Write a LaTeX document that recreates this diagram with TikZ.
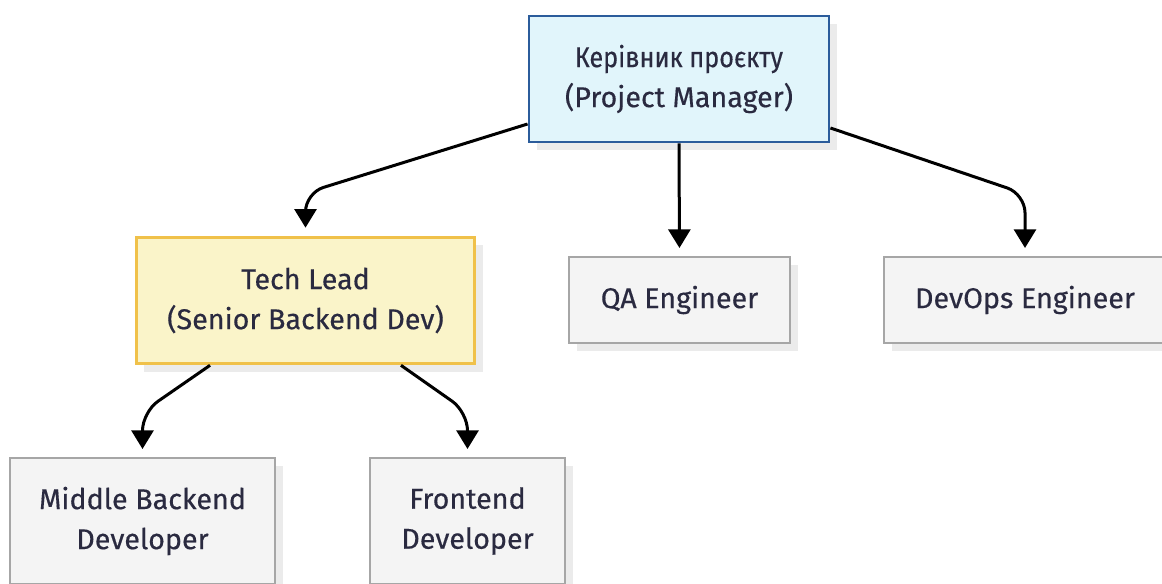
\documentclass[tikz,border=0pt]{standalone}
\usepackage{fontspec}
\setmainfont{Fira Sans}
\newfontfamily\rolefont{Fira Sans}[FakeBold=0.4]
\newfontfamily\rolecyr{Fira Sans}[FakeBold=0.4,FakeStretch=0.88]
\usetikzlibrary{arrows.meta,shadows,calc}
\definecolor{txt}{HTML}{2A2A40}
\definecolor{pmfill}{HTML}{E1F5FB}
\definecolor{pmline}{HTML}{2B5C9B}
\definecolor{tlfill}{HTML}{FAF4C9}
\definecolor{tlline}{HTML}{F0C14A}
\definecolor{grfill}{HTML}{F4F4F4}
\definecolor{grline}{HTML}{A6A6A6}
\definecolor{shade}{HTML}{EBEBEB}
\tikzset{
  role/.style={draw, line width=1.5pt, inner sep=0pt, align=center,
    text=txt, font=\rolefont\fontsize{21.5}{30}\selectfont,
    drop shadow={shadow xshift=6pt, shadow yshift=-6pt, fill=shade, opacity=1}},
  pmbox/.style={role, fill=pmfill, draw=pmline, line width=2.2pt},
  leadbox/.style={role, fill=tlfill, draw=tlline, line width=2.2pt},
  staffbox/.style={role, fill=grfill, draw=grline},
  link/.style={line width=2.25pt, rounded corners=14pt,
    -{Triangle[length=14pt,width=16.5pt]}, shorten >=6pt}
}
\begin{document}
\begin{tikzpicture}[x=0.75pt,y=-0.75pt]
\useasboundingbox (0,0) rectangle (1162,584);
\node[pmbox, minimum width=225pt, minimum height=94.5pt] (pm) at (679,79)
  {{\rolecyr Керівник проєкту}\\(Project Manager)};
\node[leadbox, minimum width=254pt, minimum height=95pt] (tl) at (305.5,300.5)
  {Tech Lead\\(Senior Backend Dev)};
\node[staffbox, minimum width=166pt, minimum height=64.5pt] (qa) at (679.5,300)
  {QA Engineer};
\node[staffbox, minimum width=211.5pt, minimum height=64.5pt] (ops) at (1025,300)
  {DevOps Engineer};
\node[staffbox, minimum width=199pt, minimum height=94.5pt] (mid) at (142.5,521)
  {Middle Backend\\Developer};
\node[staffbox, minimum width=146pt, minimum height=94.5pt] (fe) at (467.5,521)
  {Frontend\\Developer};

\draw[link] ([yshift=-33.75pt]pm.west) -- (tl.north |- 0,193) -- (tl.north);
\draw[link] (pm.south) -- (qa.north);
\draw[link] ([yshift=-36.75pt]pm.east) -- (ops.north |- 0,194) -- (ops.north);
\draw[link] ([xshift=-71.6pt]tl.south) -- (mid.north |- 0,412) -- (mid.north);
\draw[link] ([xshift=71.6pt]tl.south) -- (fe.north |- 0,412) -- (fe.north);
\end{tikzpicture}
\end{document}
